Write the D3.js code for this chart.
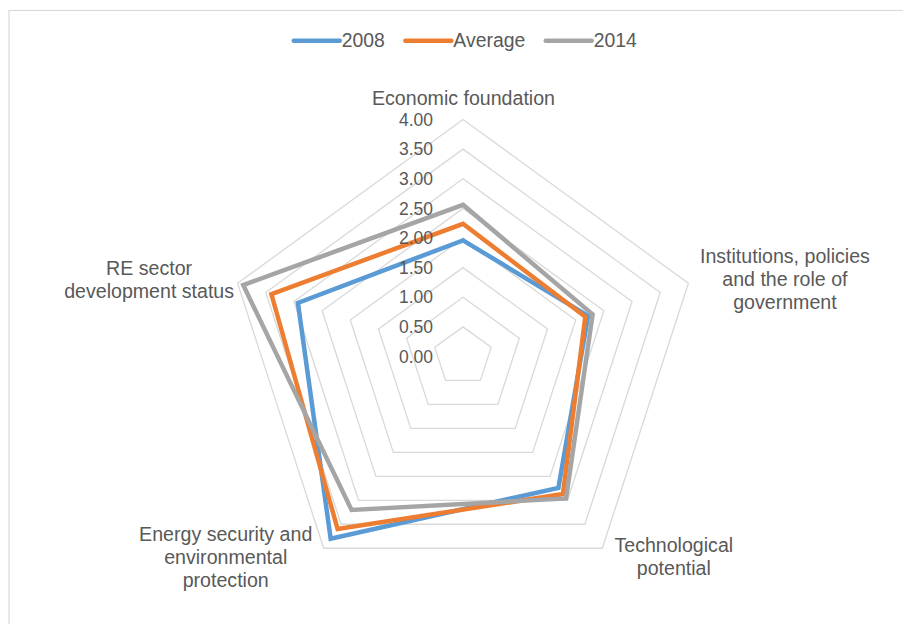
<!DOCTYPE html>
<html>
<head>
<meta charset="utf-8">
<script src="https://cdn.jsdelivr.net/npm/d3@7"></script>
<style>
  html, body { margin: 0; padding: 0; background: #fff; }
  svg { display: block; font-family: "Liberation Sans", Arial, sans-serif; }
</style>
</head>
<body>
<svg id="chart" width="903" height="624"></svg>
<script>
// Radar axes (dimensions of the assessment), clockwise from the top
const axes = [
  ["Economic foundation"],
  ["Institutions, policies", "and the role of", "government"],
  ["Technological", "potential"],
  ["Energy security and", "environmental", "protection"],
  ["RE sector", "development status"]
];

// Series scores on each axis (same order as axes)
const seriesNames = ["2008", "Average", "2014"];
const values2008 = [1.96, 2.22, 2.74, 3.80, 2.93];
const valuesAverage = [2.24, 2.17, 2.87, 3.60, 3.40];
const values2014 = [2.56, 2.30, 2.96, 3.20, 3.90];

// Radial tick labels
const tickValues = [0, 0.5, 1, 1.5, 2, 2.5, 3, 3.5, 4];

const colors = ["#5b9bd5", "#ed7d31", "#a5a5a5"];
const textColor = "#595959";
const gridColor = "#d9d9d9";

const svg = d3.select("#chart");
const cx = 463, cy = 356.5, R = 237;

// Chart frame
svg.append("rect")
  .attr("x", 9).attr("y", 10.5)
  .attr("width", 1000).attr("height", 1000)
  .attr("fill", "none").attr("stroke", gridColor).attr("stroke-width", 1.2);

const r = d3.scaleLinear().domain([0, 4]).range([0, R]);
const angle = d3.scalePoint().domain(d3.range(axes.length)).range([0, 2 * Math.PI * (axes.length - 1) / axes.length]);

const g = svg.append("g").attr("transform", `translate(${cx},${cy})`);

const radial = d3.lineRadial()
  .angle((d, i) => angle(i))
  .radius(d => r(d))
  .curve(d3.curveLinearClosed);

// Gridline pentagons
g.selectAll("path.grid")
  .data(tickValues.filter(v => v > 0))
  .join("path")
  .attr("class", "grid")
  .attr("d", v => radial(axes.map(() => v)))
  .attr("fill", "none")
  .attr("stroke", gridColor)
  .attr("stroke-width", 1.3);

// Series polygons
const seriesData = [values2008, valuesAverage, values2014];
g.selectAll("path.series")
  .data(seriesData)
  .join("path")
  .attr("class", "series")
  .attr("d", d => radial(d))
  .attr("fill", "none")
  .attr("stroke", (d, i) => colors[i])
  .attr("stroke-width", 4.5)
  .attr("stroke-linejoin", "miter");

// Tick labels along the top axis
g.selectAll("text.tick")
  .data(tickValues)
  .join("text")
  .attr("class", "tick")
  .attr("x", -30)
  .attr("y", v => -r(v))
  .attr("dy", "0.35em")
  .attr("text-anchor", "end")
  .attr("fill", textColor)
  .attr("font-size", "17.5px")
  .text(v => d3.format(".2f")(v));

// Axis category labels, offset from each outer vertex
const labelOffsets = [
  { dx: 0.5, dy: -14.5 },
  { dx: 96.5, dy: -20 },
  { dx: 71.5, dy: 3.5 },
  { dx: -98, dy: -7 },
  { dx: -88.5, dy: -8 }
];
const lineHeight = 23;
axes.forEach((lines, i) => {
  const a = angle(i) - Math.PI / 2;
  const vx = Math.cos(a) * r(4), vy = Math.sin(a) * r(4);
  const off = labelOffsets[i];
  const t = g.append("text")
    .attr("text-anchor", "middle")
    .attr("fill", textColor)
    .attr("font-size", "19.6px");
  lines.forEach((ln, j) => {
    t.append("tspan")
      .attr("x", vx + off.dx)
      .attr("y", vy + off.dy + j * lineHeight)
      .text(ln);
  });
});

// Legend
const legend = svg.append("g");
let lx = 0;
seriesNames.forEach((name, i) => {
  const item = legend.append("g");
  item.append("line")
    .attr("x1", 0).attr("x2", 46)
    .attr("y1", 0).attr("y2", 0)
    .attr("stroke", colors[i]).attr("stroke-width", 4.5)
    .attr("stroke-linecap", "round");
  const txt = item.append("text")
    .attr("x", 48).attr("y", 0).attr("dy", "0.35em")
    .attr("fill", textColor).attr("font-size", "19.4px")
    .text(name);
  const w = 48 + txt.node().getComputedTextLength();
  item.attr("transform", `translate(${lx},0)`);
  lx += w + 20.5;
});
const legendWidth = lx - 20.5;
legend.attr("transform", `translate(${465.3 - legendWidth / 2},40.7)`);
</script>
</body>
</html>
